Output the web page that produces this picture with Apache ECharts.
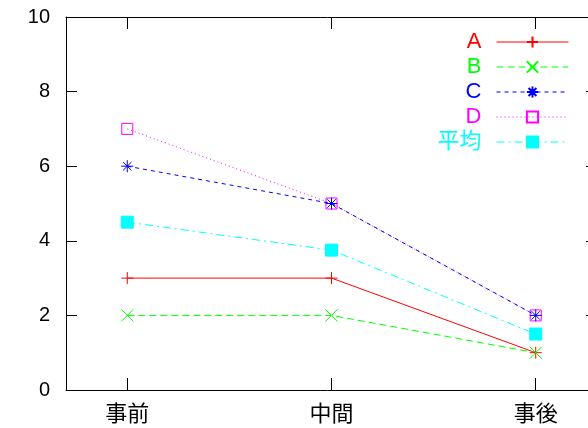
<!DOCTYPE html>
<html><head><meta charset="utf-8">
<script src="https://cdn.jsdelivr.net/npm/echarts@6/dist/echarts.min.js"></script>
<style>html,body{margin:0;padding:0;background:#fff}#c{width:588px;height:428px}</style>
</head><body><div id="c"></div>
<script>
const categories = ['事前', '中間', '事後'];
const seriesNames = ['A', 'B', 'C', 'D', '平均'];
const valuesA = [3, 3, 1];
const valuesB = [2, 2, 1];
const valuesC = [6, 5, 2];
const valuesD = [7, 5, 2];
const valuesAvg = [4.5, 3.75, 1.5];
const yTicks = [0, 2, 4, 6, 8, 10];

const colors = ['#ff0000', '#00ff00', '#0000ff', '#ff00ff', '#00ffff'];
const allValues = [valuesA, valuesB, valuesC, valuesD, valuesAvg];
const symbols = [
  'path://M0,5L10,5M5,0L5,10',
  'path://M0,0L10,10M10,0L0,10',
  'path://M0,5L10,5M5,0L5,10M1.5,1.5L8.5,8.5M8.5,1.5L1.5,8.5',
  'path://M0,0L10,0L10,10L0,10Z',
  'rect'
];
const fills = ['#ff0000', '#00ff00', '#0000ff', 'rgba(255,255,255,0)', '#00ffff'];
const dashes = ['solid', [7, 4], [4, 4], [1, 3], [8, 4, 2, 4]];
const sizes = [12, 12, 12, 11, 12];
const zOrder = [2, 2, 4, 3, 2];

const chart = echarts.init(document.getElementById('c'));
const axisCommon = {
  min: -0.3, max: 2.3,
  axisLine: {show: true, onZero: false, lineStyle: {color: '#000', width: 1}},
  splitLine: {show: false},
  axisTick: {show: true, inside: true, length: 12, customValues: [0, 1, 2], lineStyle: {color: '#000'}}
};
const yCommon = {
  type: 'value', min: 0, max: 10, interval: 2,
  axisLine: {show: true, onZero: false, lineStyle: {color: '#000'}}, splitLine: {show: false},
  axisTick: {show: true, inside: true, length: 11, lineStyle: {color: '#000'}}
};
chart.setOption({
  animation: false,
  grid: {left: 66, top: 17, width: 531, bottom: 38, containLabel: false, outerBoundsMode: 'none'},
  legend: {
    orient: 'vertical', right: 14, top: 26, align: 'right',
    itemWidth: 72, itemHeight: 14, itemGap: 3,
    lineStyle: {width: 1},
    data: seriesNames.map((n, i) => ({name: n, textStyle: {color: colors[i]}})),
    textStyle: {fontSize: 22, fontFamily: 'Liberation Sans, Noto Sans CJK JP', padding: [0, 10, 0, 0]}
  },
  xAxis: [
    Object.assign({type: 'value', position: 'bottom',
      axisLabel: {show: true, customValues: [0, 1, 2], formatter: v => categories[Math.round(v)] || '',
        fontSize: 22, color: '#000', margin: 12, fontFamily: 'Noto Sans CJK JP'}}, axisCommon),
    Object.assign({type: 'value', position: 'top', axisLabel: {show: false}}, axisCommon)
  ],
  yAxis: [
    Object.assign({position: 'left',
      axisLabel: {fontSize: 20, color: '#000', margin: 16, fontFamily: 'Liberation Sans',
        formatter: v => yTicks.includes(v) ? String(v) : ''}}, yCommon),
    Object.assign({position: 'right', axisLabel: {show: false}}, yCommon)
  ],
  series: seriesNames.map((n, i) => ({
    name: n, type: 'line', xAxisIndex: 0, yAxisIndex: 0, z: zOrder[i],
    data: allValues[i].map((v, j) => [j, v]),
    symbol: symbols[i], symbolSize: sizes[i], showAllSymbol: true,
    lineStyle: {color: colors[i], width: 1, type: dashes[i]},
    itemStyle: {color: fills[i], borderColor: colors[i], borderWidth: 1},
    emphasis: {disabled: true}
  }))
});
</script></body></html>
